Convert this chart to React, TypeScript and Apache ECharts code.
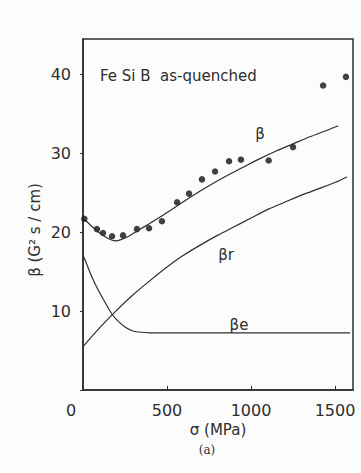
import React, { useEffect, useRef } from "react";
import * as echarts from "echarts";

// Measured β values (G² s/cm) against stress σ (MPa)
const measuredSigma = [8, 83, 119, 173, 238, 321, 393, 470, 560, 631, 708, 786, 869, 940, 1105, 1250, 1429, 1565];
const measuredBeta = [21.7, 20.4, 19.9, 19.5, 19.6, 20.4, 20.5, 21.4, 23.8, 24.9, 26.7, 27.7, 29.0, 29.2, 29.1, 30.8, 38.6, 39.7];

// Calculated total β
const betaSigma = [0, 50, 100, 150, 190, 230, 280, 350, 450, 550, 650, 750, 850, 950, 1050, 1150, 1250, 1350, 1450, 1520];
const betaValues = [21.8, 20.8, 19.9, 19.2, 18.9, 19.1, 19.6, 20.5, 21.8, 23.2, 24.6, 25.9, 27.1, 28.2, 29.3, 30.3, 31.2, 32.1, 32.9, 33.5];

// Rotational component βr
const betaRSigma = [0, 100, 200, 300, 400, 500, 600, 700, 800, 900, 1000, 1100, 1200, 1300, 1400, 1500, 1571];
const betaRValues = [5.5, 7.9, 10.1, 12.1, 13.9, 15.6, 17.1, 18.4, 19.6, 20.7, 21.8, 22.9, 23.8, 24.7, 25.5, 26.3, 27.0];

// Eddy-current component βe
const betaESigma = [0, 12, 40, 71, 113, 173, 210, 250, 290, 330, 400, 800, 1200, 1590];
const betaEValues = [17.0, 16.5, 15.0, 13.5, 11.8, 9.6, 8.7, 8.0, 7.55, 7.35, 7.25, 7.25, 7.25, 7.25];

const xTicks = [0, 500, 1000, 1500];
const yTicks = [10, 20, 30, 40];

const zip = (xs: number[], ys: number[]) => xs.map((x, i) => [x, ys[i]]);

const ink = "#2e2e2e";
const font = "'DejaVu Sans', sans-serif";

export default function App() {
  const ref = useRef<HTMLDivElement>(null);

  useEffect(() => {
    if (!ref.current) return;
    const chart = echarts.init(ref.current, undefined, { renderer: "svg" });

    const lineStyle = { color: ink, width: 1.2 };
    const curve = (data: number[][]) => ({
      type: "line" as const,
      data,
      smooth: 0.3,
      symbol: "none",
      lineStyle,
      silent: true,
    });

    chart.setOption({
      animation: false,
      backgroundColor: "#fcfcfc",
      grid: {
        left: 83,
        top: 39,
        width: 270,
        height: 351,
        show: true,
        borderColor: ink,
        borderWidth: 1.5,
      },
      xAxis: {
        type: "value",
        min: 0,
        max: 1607,
        interval: 500,
        splitLine: { show: false },
        axisLine: { lineStyle: { color: ink, width: 1.5 } },
        axisTick: { show: true, inside: true, length: 4, lineStyle: { color: ink } },
        axisLabel: {
          margin: 12,
          color: ink,
          fontSize: 16,
          fontFamily: font,
          showMaxLabel: false,
          formatter: (v: number) => (xTicks.includes(v) && v !== 0 ? String(v) : ""),
        },
        name: "σ (MPa)",
        nameLocation: "middle",
        nameGap: 28,
        nameTextStyle: { color: ink, fontSize: 15, fontFamily: font },
      },
      yAxis: {
        type: "value",
        min: 0,
        max: 44.5,
        interval: 10,
        splitLine: { show: false },
        axisLine: { lineStyle: { color: ink, width: 1.5 } },
        axisTick: { show: true, length: 3, lineStyle: { color: ink } },
        axisLabel: {
          margin: 12,
          color: ink,
          fontSize: 16,
          fontFamily: font,
          showMaxLabel: false,
          formatter: (v: number) => (yTicks.includes(v) ? String(v) : ""),
        },
      },
      series: [
        curve(zip(betaSigma, betaValues)),
        curve(zip(betaRSigma, betaRValues)),
        curve(zip(betaESigma, betaEValues)),
        {
          type: "scatter",
          data: zip(measuredSigma, measuredBeta),
          symbol: "circle",
          symbolSize: 6.5,
          itemStyle: { color: "#111" },
          silent: true,
        },
      ],
      graphic: [
        {
          type: "text",
          x: 71,
          y: 410,
          style: { text: "0", fill: ink, font: `16px ${font}`, align: "center", verticalAlign: "middle" },
        },
        {
          type: "text",
          x: 35,
          y: 230,
          rotation: Math.PI / 2,
          style: {
            text: "β (G² s / cm)",
            fill: ink,
            font: `15px ${font}`,
            align: "center",
            verticalAlign: "middle",
          },
        },
        {
          type: "text",
          x: 100,
          y: 76,
          style: {
            text: "Fe Si B  as-quenched",
            fill: ink,
            font: `15px ${font}`,
            align: "left",
            verticalAlign: "middle",
          },
        },
        {
          type: "text",
          x: 260,
          y: 134,
          style: { text: "β", fill: ink, font: `15px ${font}`, align: "center", verticalAlign: "middle" },
        },
        {
          type: "text",
          x: 226,
          y: 255,
          style: { text: "βr", fill: ink, font: `15px ${font}`, align: "center", verticalAlign: "middle" },
        },
        {
          type: "text",
          x: 239,
          y: 325,
          style: { text: "βe", fill: ink, font: `15px ${font}`, align: "center", verticalAlign: "middle" },
        },
        {
          type: "text",
          x: 207,
          y: 450,
          style: { text: "(a)", fill: ink, font: `12px 'DejaVu Serif', serif`, align: "center", verticalAlign: "middle" },
        },
      ],
    });

    return () => chart.dispose();
  }, []);

  return <div ref={ref} style={{ width: 361, height: 473, position: "absolute", left: 0, top: 0 }} />;
}
